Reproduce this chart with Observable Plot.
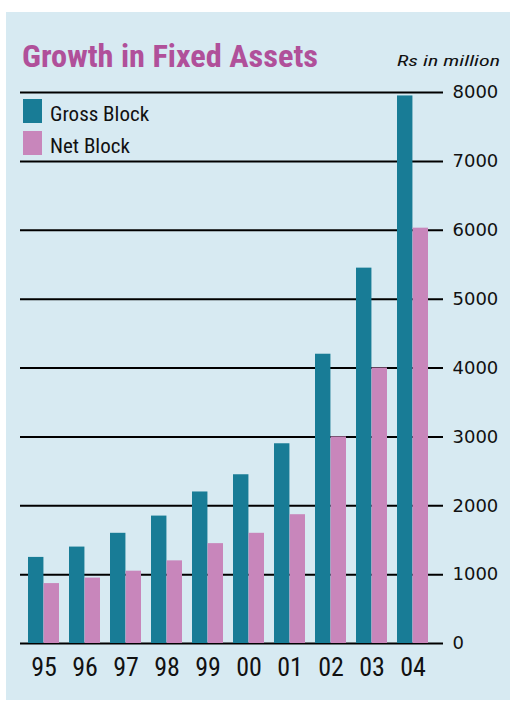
<!DOCTYPE html>
<html>
<head>
<meta charset="utf-8">
<script src="https://cdn.jsdelivr.net/npm/d3@7"></script>
<script src="https://cdn.jsdelivr.net/npm/@observablehq/plot@0.6"></script>
<style>
  html, body { margin: 0; padding: 0; background: #ffffff; }
  #wrap { position: relative; width: 516px; height: 711px; overflow: hidden; }
  #bg { position: absolute; left: 6px; top: 12px; width: 504px; height: 688px; background: #d7eaf2; }
  #chart { position: absolute; left: 0; top: 0; }
  #head { position: absolute; left: 0; top: 0; }
  .leg { position: absolute; left: 0; top: 0; }
</style>
</head>
<body>
<div id="wrap">
  <div id="bg"></div>
  <div id="chart"></div>
  <svg id="head" width="516" height="170" xmlns="http://www.w3.org/2000/svg"></svg>
</div>
<script>
const years = ["95","96","97","98","99","00","01","02","03","04"];
const gross = [1250, 1400, 1600, 1850, 2200, 2450, 2900, 4200, 5450, 7950];
const net   = [870, 950, 1050, 1200, 1450, 1600, 1870, 3000, 4000, 6030];
const seriesNames = ["Gross Block", "Net Block"];
const seriesColors = ["#187c96", "#c886bb"];
const yTicks = [0, 1000, 2000, 3000, 4000, 5000, 6000, 7000, 8000];
const titleText = "Growth in Fixed Assets";
const unitText = "Rs in million";

const grossData = years.map((y, i) => ({year: y, value: gross[i]}));
const netData = years.map((y, i) => ({year: y, value: net[i]}));

const W = 516, H = 711, mL = 25, mR = 86, mT = 92, mB = 68;
const padIn = 0.25;
const step = (W - mL - mR) / (years.length - padIn);
const half = step * (1 - padIn) / 2;
const narrow = "'Liberation Sans Narrow', 'Roboto Condensed', 'Liberation Sans', sans-serif";

const chart = Plot.plot({
  width: W, height: H,
  marginTop: mT, marginBottom: mB, marginLeft: mL, marginRight: mR,
  style: {background: "transparent", fontFamily: narrow, color: "#111"},
  x: {domain: years, paddingInner: padIn, paddingOuter: 0},
  y: {domain: [0, 8000]},
  marks: [
    Plot.ruleY(yTicks, {stroke: "#000", strokeWidth: 2, insetLeft: -5, insetRight: -13}),
    Plot.barY(grossData, {x: "year", y: "value", fill: seriesColors[0], insetRight: half}),
    Plot.barY(netData, {x: "year", y: "value", fill: seriesColors[1], insetLeft: half}),
    Plot.axisY({anchor: "right", ticks: yTicks, tickSize: 0, tickPadding: 22, fontSize: 18,
                fontFamily: "'DejaVu Sans', sans-serif", tickFormat: d => String(d), label: null}),
    Plot.axisX({tickSize: 0, tickPadding: 14, fontSize: 26, label: null})
  ]
});
document.getElementById("chart").appendChild(chart);

const head = d3.select("#head");
head.append("text").attr("x", 22).attr("y", 67)
  .attr("textLength", 296).attr("lengthAdjust", "spacingAndGlyphs")
  .attr("font-family", narrow).attr("font-weight", "bold").attr("font-size", 32)
  .attr("fill", "#b0509a").text(titleText);
head.append("text").attr("x", 397).attr("y", 66)
  .attr("textLength", 103).attr("lengthAdjust", "spacingAndGlyphs")
  .attr("font-family", narrow).attr("font-style", "italic").attr("font-size", 15)
  .attr("fill", "#111").text(unitText);

const legY = [99, 131];
seriesNames.forEach((name, i) => {
  head.append("rect").attr("x", 23).attr("y", legY[i]).attr("width", 19).attr("height", 24)
    .attr("fill", seriesColors[i]);
  head.append("text").attr("x", 50).attr("y", legY[i] + 22)
    .attr("font-family", narrow).attr("font-size", 21).attr("fill", "#111").text(name);
});
</script>
</body>
</html>
